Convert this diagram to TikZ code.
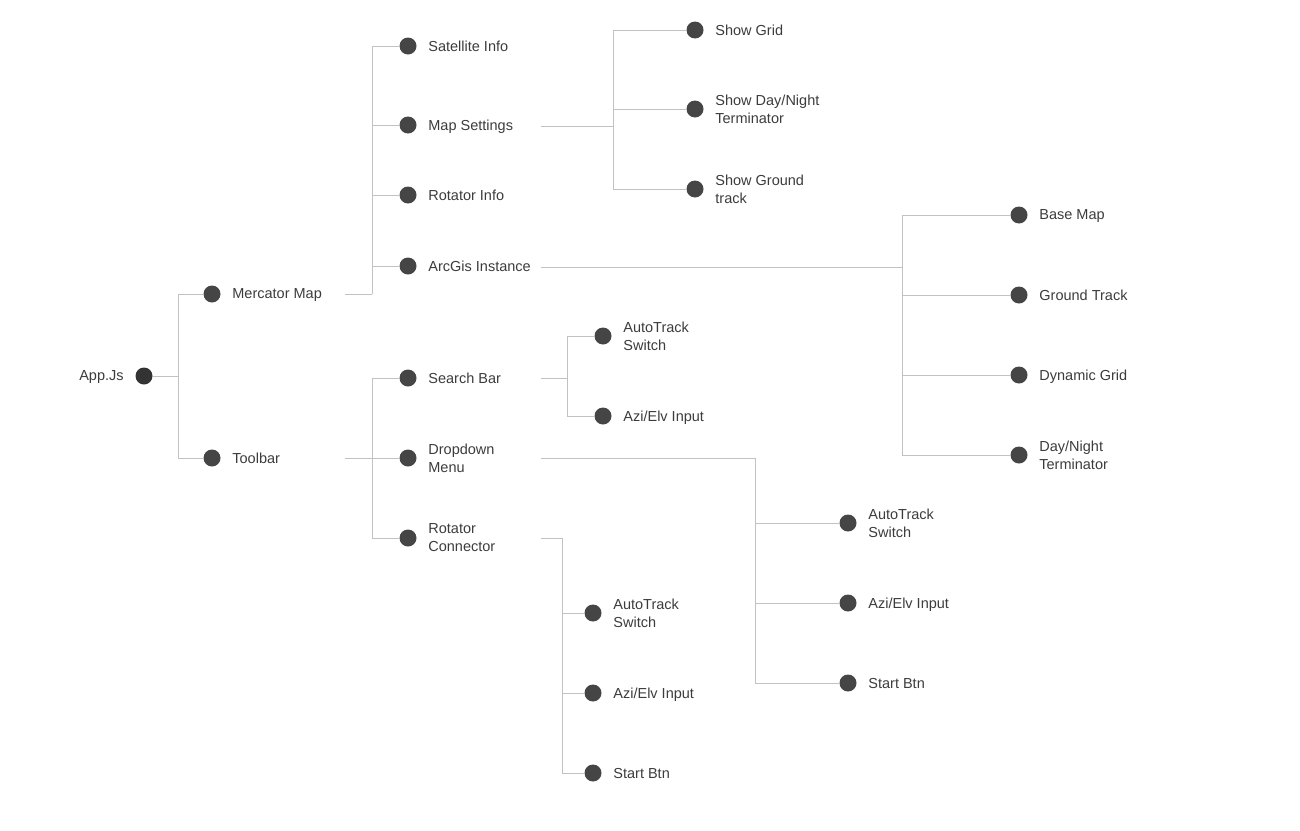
\documentclass[tikz,border=0pt]{standalone}
\usepackage{fontspec}
\setmainfont{Liberation Sans}
\usetikzlibrary{positioning}
\definecolor{dotgrey}{HTML}{454545}
\definecolor{rootgrey}{HTML}{333333}
\definecolor{inkgrey}{HTML}{3C3C3C}
\definecolor{wiregrey}{HTML}{C2C2C2}
\tikzset{
  leaf/.style={circle, fill=dotgrey, minimum size=17pt, inner sep=0pt},
  tag/.style={font=\fontsize{14.5}{18}\selectfont, color=inkgrey,
              inner sep=0pt, align=left, text depth=0pt},
  wire/.style={draw=wiregrey, line width=0.8pt},
}

\begin{document}
\begin{tikzpicture}[x=1pt,y=-1pt]
  \useasboundingbox (0,0) rectangle (1300,830);

  % root
  \node[leaf, fill=rootgrey] (app) at (144,376) {};
  \node[tag, left=11.5pt of app] (appT) {App.Js};

  % first level
  \node[leaf] (merc) at (212,294) {};
  \node[tag, right=11.5pt of merc] (mercT) {Mercator Map};
  \node[leaf] (tool) at (212,458) {};
  \node[tag, right=11.5pt of tool] (toolT) {Toolbar};

  % mercator map children
  \node[leaf] (sat) at (408,46) {};
  \node[tag, right=11.5pt of sat] (satT) {Satellite Info};
  \node[leaf] (mapset) at (408,125) {};
  \node[tag, right=11.5pt of mapset] (mapsetT) {Map Settings};
  \node[leaf] (rotinfo) at (408,195) {};
  \node[tag, right=11.5pt of rotinfo] (rotinfoT) {Rotator Info};
  \node[leaf] (arcgis) at (408,266) {};
  \node[tag, right=11.5pt of arcgis] (arcgisT) {ArcGis Instance};

  % toolbar children
  \node[leaf] (search) at (408,378) {};
  \node[tag, right=11.5pt of search] (searchT) {Search Bar};
  \node[leaf] (drop) at (408,458) {};
  \node[tag, right=11.5pt of drop] (dropT) {Dropdown\\Menu};
  \node[leaf] (rotcon) at (408,538) {};
  \node[tag, right=11.5pt of rotcon] (rotconT) {Rotator\\Connector};

  % map settings children
  \node[leaf] (grid) at (695,30) {};
  \node[tag, right=11.5pt of grid] (gridT) {Show Grid};
  \node[leaf] (daynight) at (695,109) {};
  \node[tag, right=11.5pt of daynight] (daynightT) {Show Day/Night\\Terminator};
  \node[leaf] (ground) at (695,189) {};
  \node[tag, right=11.5pt of ground] (groundT) {Show Ground\\track};

  % arcgis children
  \node[leaf] (basemap) at (1019,215) {};
  \node[tag, right=11.5pt of basemap] (basemapT) {Base Map};
  \node[leaf] (gtrack) at (1019,295) {};
  \node[tag, right=11.5pt of gtrack] (gtrackT) {Ground Track};
  \node[leaf] (dyngrid) at (1019,375) {};
  \node[tag, right=11.5pt of dyngrid] (dyngridT) {Dynamic Grid};
  \node[leaf] (dnterm) at (1019,455) {};
  \node[tag, right=11.5pt of dnterm] (dntermT) {Day/Night\\Terminator};

  % search bar children
  \node[leaf] (sbAuto) at (603,336) {};
  \node[tag, right=11.5pt of sbAuto] (sbAutoT) {AutoTrack\\Switch};
  \node[leaf] (sbAzi) at (603,416) {};
  \node[tag, right=11.5pt of sbAzi] (sbAziT) {Azi/Elv Input};

  % dropdown children
  \node[leaf] (ddAuto) at (848,523) {};
  \node[tag, right=11.5pt of ddAuto] (ddAutoT) {AutoTrack\\Switch};
  \node[leaf] (ddAzi) at (848,603) {};
  \node[tag, right=11.5pt of ddAzi] (ddAziT) {Azi/Elv Input};
  \node[leaf] (ddStart) at (848,683) {};
  \node[tag, right=11.5pt of ddStart] (ddStartT) {Start Btn};

  % rotator connector children
  \node[leaf] (rcAuto) at (593,613) {};
  \node[tag, right=11.5pt of rcAuto] (rcAutoT) {AutoTrack\\Switch};
  \node[leaf] (rcAzi) at (593,693) {};
  \node[tag, right=11.5pt of rcAzi] (rcAziT) {Azi/Elv Input};
  \node[leaf] (rcStart) at (593,773) {};
  \node[tag, right=11.5pt of rcStart] (rcStartT) {Start Btn};

  % stub ends
  \coordinate (appBus) at (178,376);
  \coordinate (mercOut) at (345,294);
  \coordinate (mercBus) at (372,294);
  \coordinate (toolOut) at (345,458);
  \coordinate (toolBus) at (372,458);
  \coordinate (mapsetOut) at (541,126);
  \coordinate (mapsetBus) at (613,126);
  \coordinate (arcgisOut) at (541,267);
  \coordinate (arcgisBus) at (902,267);
  \coordinate (searchOut) at (541,378);
  \coordinate (searchBus) at (567,378);
  \coordinate (dropOut) at (541,458);
  \coordinate (dropBus) at (755,458);
  \coordinate (rotconOut) at (541,538);
  \coordinate (rotconBus) at (562,538);

  % connectors
  \draw[wire] (app) -- (appBus);
  \foreach \c in {merc,tool} \draw[wire] (appBus) |- (\c.west);
  \draw[wire] (mercOut) -- (mercBus);
  \foreach \c in {sat,mapset,rotinfo,arcgis} \draw[wire] (mercBus) |- (\c.west);
  \draw[wire] (toolOut) -- (toolBus);
  \foreach \c in {search,drop,rotcon} \draw[wire] (toolBus) |- (\c.west);
  \draw[wire] (mapsetOut) -- (mapsetBus);
  \foreach \c in {grid,daynight,ground} \draw[wire] (mapsetBus) |- (\c.west);
  \draw[wire] (arcgisOut) -- (arcgisBus);
  \foreach \c in {basemap,gtrack,dyngrid,dnterm} \draw[wire] (arcgisBus) |- (\c.west);
  \draw[wire] (searchOut) -- (searchBus);
  \foreach \c in {sbAuto,sbAzi} \draw[wire] (searchBus) |- (\c.west);
  \draw[wire] (dropOut) -- (dropBus);
  \foreach \c in {ddAuto,ddAzi,ddStart} \draw[wire] (dropBus) |- (\c.west);
  \draw[wire] (rotconOut) -- (rotconBus);
  \foreach \c in {rcAuto,rcAzi,rcStart} \draw[wire] (rotconBus) |- (\c.west);
\end{tikzpicture}
\end{document}
